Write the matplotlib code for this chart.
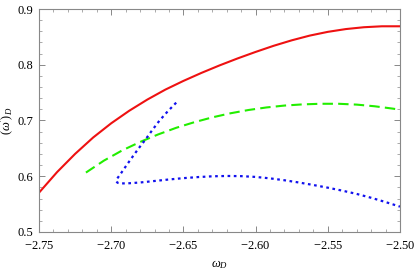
import numpy as np
import matplotlib
matplotlib.use("Agg")
import matplotlib.pyplot as plt
from matplotlib.ticker import MultipleLocator, FormatStrFormatter

# curve samples
red_x = [-2.75, -2.7375, -2.725, -2.7125, -2.70, -2.6875, -2.675, -2.6625, -2.65, -2.6375,
         -2.625, -2.6125, -2.60, -2.5875, -2.575, -2.5625, -2.55, -2.5375, -2.525, -2.5125, -2.50]
red_y = [0.5705, 0.6074, 0.6401, 0.6695, 0.6950, 0.7175, 0.7375, 0.7554, 0.7710, 0.7854,
         0.7988, 0.8113, 0.8230, 0.8340, 0.8438, 0.8523, 0.8590, 0.8640, 0.8673, 0.8690, 0.8690]

green_x = [-2.7175, -2.705, -2.6925, -2.68, -2.6675, -2.655, -2.6425, -2.63, -2.6175, -2.605,
           -2.5925, -2.58, -2.5675, -2.555, -2.5425, -2.53, -2.5175, -2.505, -2.50]
green_y = [0.6066, 0.6281, 0.6462, 0.6615, 0.6750, 0.6869, 0.6969, 0.7056, 0.7129, 0.7188,
           0.7234, 0.7268, 0.7289, 0.7300, 0.7300, 0.7285, 0.7255, 0.7213, 0.7193]

blue_x = [-2.655, -2.661, -2.6665, -2.6715, -2.6765, -2.681, -2.6852, -2.6893, -2.6933, -2.6958,
          -2.6965, -2.6955, -2.693, -2.689, -2.68, -2.67, -2.66, -2.65, -2.64, -2.63, -2.62,
          -2.61, -2.60, -2.59, -2.58, -2.57, -2.56, -2.55, -2.54, -2.53, -2.52, -2.51, -2.50]
blue_y = [0.732, 0.716, 0.700, 0.683, 0.665, 0.650, 0.635, 0.620, 0.605, 0.596,
          0.5905, 0.5882, 0.5872, 0.5872, 0.5888, 0.5915, 0.5942, 0.5966, 0.5985, 0.5999, 0.6005,
          0.6002, 0.5988, 0.5962, 0.5928, 0.5888, 0.5843, 0.5795, 0.5742, 0.5683, 0.5614, 0.5537, 0.5455]

plt.rcParams['font.family'] = ['Liberation Serif', 'DejaVu Serif']
plt.rcParams['mathtext.fontset'] = 'custom'
plt.rcParams['mathtext.rm'] = 'Liberation Serif'
plt.rcParams['mathtext.it'] = 'Liberation Serif:italic'

fig = plt.figure(figsize=(4.15, 2.7), dpi=100)
ax = fig.add_axes([39 / 415, 1 - 232 / 270, 361 / 415, 223 / 270])

ax.plot(red_x, red_y, color='#ee1111', lw=1.5, solid_capstyle='butt', solid_joinstyle='round')
ax.plot(green_x, green_y, color='#22ee00', lw=1.5, dashes=(5, 2.5))
ax.plot(blue_x, blue_y, color='#1111ee', lw=1.6, dashes=(1.2, 1.6))

ax.set_xlim(-2.75, -2.50)
ax.set_ylim(0.5, 0.9)
ax.xaxis.set_major_locator(MultipleLocator(0.05))
ax.xaxis.set_minor_locator(MultipleLocator(0.01))
ax.yaxis.set_major_locator(MultipleLocator(0.1))
ax.yaxis.set_minor_locator(MultipleLocator(0.02))
ax.xaxis.set_major_formatter(FormatStrFormatter('$%.2f$'))
ax.yaxis.set_major_formatter(FormatStrFormatter('%.1f'))

for s in ax.spines.values():
    s.set_color('#888888')
    s.set_linewidth(0.8)
ax.tick_params(which='both', direction='in', top=True, right=True, color='#888888',
               labelsize=9, labelcolor='black')
ax.tick_params(axis='x', which='major', pad=6)
ax.tick_params(axis='y', which='major', pad=4)
ax.tick_params(which='major', length=4, width=0.7)
ax.tick_params(which='minor', length=2, width=0.5)

ax.set_xlabel(r'$\omega_D$', fontsize=9, labelpad=4)
ax.set_ylabel(r"$(\omega')_D$", fontsize=9, labelpad=1)

fig.savefig('out.png', dpi=100)
